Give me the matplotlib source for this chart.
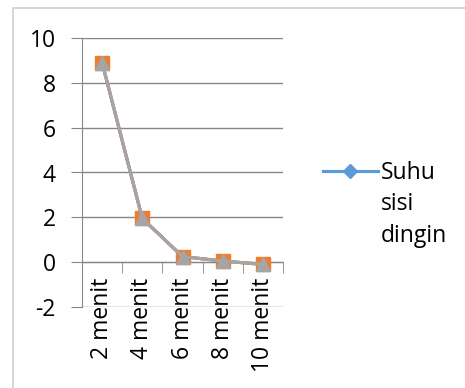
import matplotlib
matplotlib.use("Agg")
import matplotlib.pyplot as plt
from matplotlib.patches import Rectangle
from matplotlib.ticker import FixedLocator, MultipleLocator

categories = ["2 menit", "4 menit", "6 menit", "8 menit", "10 menit"]
suhu_sisi_dingin = [8.9, 1.95, 0.25, 0.05, -0.1]
series2 = [8.9, 1.95, 0.25, 0.05, -0.1]
series3 = [8.9, 1.95, 0.25, 0.05, -0.1]
legend_label = "Suhu\nsisi\ndingin"

plt.rcParams['font.family'] = ['Open Sans', 'DejaVu Sans']
plt.rcParams['axes.unicode_minus'] = False

FS = 16.5

fig = plt.figure(figsize=(4.65, 3.88), dpi=100)
fig.patches.append(Rectangle((13/465, -0.05), 1.1, 1 - 8/388 + 0.05, transform=fig.transFigure,
                             fill=False, edgecolor='#d0d0d0', linewidth=1.2))

ax = fig.add_axes([82/465, 1 - 307/388, (283-82)/465, (307-38)/388])
x = list(range(1, len(categories) + 1))

l1, = ax.plot(x, suhu_sisi_dingin, color='#5b9bd5', marker='D', markersize=7, linewidth=2.25,
              label=legend_label, zorder=3)
ax.plot(x, series2, color='#ed7d31', marker='s', markersize=9.5, linewidth=2.25, zorder=4)
ax.plot(x, series3, color='#a5a5a5', marker='^', markersize=9.5, linewidth=2.25, zorder=5)

ax.set_xlim(0.5, 5.5)
ax.set_ylim(-2, 10)
ax.yaxis.set_major_locator(MultipleLocator(2))
ax.grid(axis='y', color='#868686', linewidth=1)
ax.set_axisbelow(True)

for s in ['top', 'right']:
    ax.spines[s].set_visible(False)
ax.spines['left'].set_color('#868686')
ax.spines['bottom'].set_color('#868686')
ax.spines['bottom'].set_position(('data', 0))

ax.set_xticks(x)
ax.set_xticklabels(categories, rotation=90, fontsize=FS)
ax.tick_params(axis='x', which='major', length=0, pad=11)
ax.xaxis.set_minor_locator(FixedLocator([0.5, 1.5, 2.5, 3.5, 4.5, 5.5]))
ax.tick_params(axis='x', which='minor', length=8, color='#868686', direction='out')
ax.tick_params(axis='y', length=8, color='#868686', labelsize=FS, pad=11)

leg = fig.legend(handles=[l1], loc='upper left', bbox_to_anchor=(302/465, 1 - 140/388),
                 frameon=False, fontsize=FS, handlelength=2.4, handletextpad=0.15,
                 handleheight=1.3, labelspacing=0)
leg.texts[0].set_linespacing(1.42)
for col in leg._legend_handle_box.get_children():
    for item in col.get_children():
        item.align = 'top'

fig.savefig("out.png", dpi=100)
